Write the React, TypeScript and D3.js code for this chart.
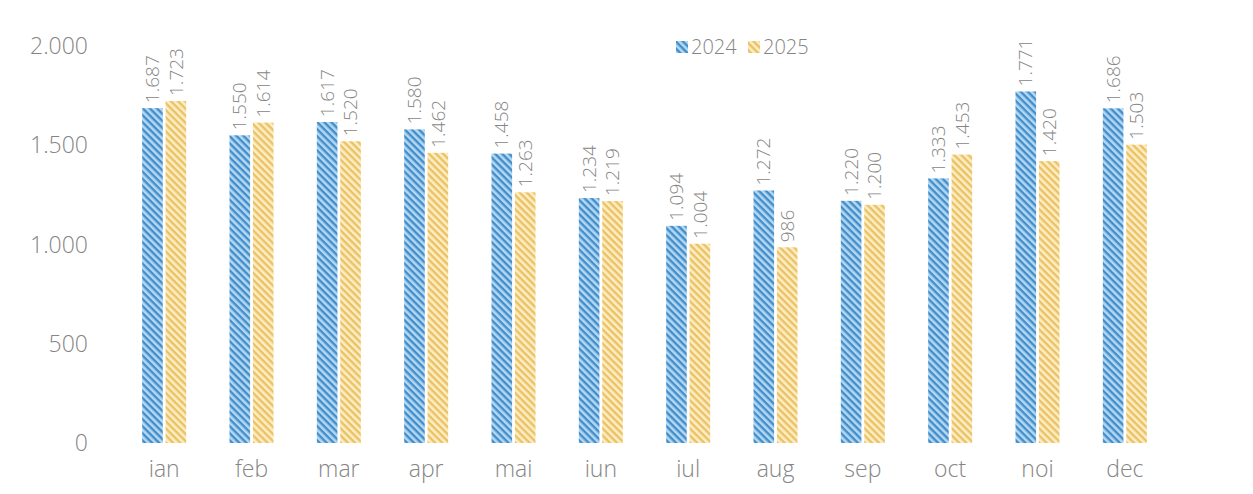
import React from "react";
import * as d3 from "d3";

const months = ["ian", "feb", "mar", "apr", "mai", "iun", "iul", "aug", "sep", "oct", "noi", "dec"];
const series2024 = [1687, 1550, 1617, 1580, 1458, 1234, 1094, 1272, 1220, 1333, 1771, 1686];
const series2025 = [1723, 1614, 1520, 1462, 1263, 1219, 1004, 986, 1200, 1453, 1420, 1503];
const yTicks = [0, 500, 1000, 1500, 2000];
const seriesNames = ["2024", "2025"];

const W = 1253;
const H = 494;
const locale = d3.formatLocale({ decimal: ",", thousands: ".", grouping: [3], currency: ["", " lei"] });
const fmt = locale.format(",d");
const FONT = "'Open Sans', 'Noto Sans', sans-serif";
const TEXT = "#858585";

export default function App() {
  const x = d3.scaleBand<string>().domain(months).range([120.5, 1168.5]).paddingInner(0).paddingOuter(0);
  const y = d3.scaleLinear().domain([0, 2000]).range([443, 46]);
  const sub = d3.scaleBand<string>().domain(seriesNames).range([0, 44]).paddingInner(0.12);
  const barW = sub.bandwidth();
  const off = (x.bandwidth() - 44) / 2;
  const data = [series2024, series2025];
  const pats = ["p2024", "p2025"];

  return (
    <svg width={W} height={H} style={{ position: "absolute", left: 0, top: 0, background: "#fff" }}>
      <defs>
        <pattern id="p2024" patternUnits="userSpaceOnUse" width={5} height={5} patternTransform="rotate(45)">
          <rect width={5} height={5} fill="#b5d8f2" />
          <rect width={5} height={2.4} fill="#428ecb" />
        </pattern>
        <pattern id="p2025" patternUnits="userSpaceOnUse" width={5} height={5} patternTransform="rotate(45)">
          <rect width={5} height={5} fill="#fcedc6" />
          <rect width={5} height={2.4} fill="#ebc262" />
        </pattern>
      </defs>
      {yTicks.map((t) => (
        <text key={t} x={88} y={y(t)} dy="0.35em" textAnchor="end" fontFamily={FONT} fontSize={23} fontWeight={300} fill={TEXT}>
          {fmt(t)}
        </text>
      ))}
      {months.map((m, i) => (
        <g key={m} transform={`translate(${(x(m) as number) + off},0)`}>
          {data.map((s, j) => {
            const bx = sub(seriesNames[j]) as number;
            const by = y(s[i]);
            return (
              <g key={j}>
                <rect x={bx} y={by} width={barW} height={y(0) - by} fill={`url(#${pats[j]})`} />
                <text
                  transform={`translate(${bx + barW / 2},${by - 5}) rotate(-90)`}
                  dy="0.35em"
                  textAnchor="start"
                  fontFamily={FONT}
                  fontSize={19}
                  fontWeight={300}
                  fill={TEXT}
                >
                  {fmt(s[i])}
                </text>
              </g>
            );
          })}
          <text x={22} y={469} dy="0.35em" textAnchor="middle" fontFamily={FONT} fontSize={23} fontWeight={300} fill={TEXT}>
            {m}
          </text>
        </g>
      ))}
      <g transform="translate(676,47)">
        <rect x={0} y={-6} width={12} height={12} fill="url(#p2024)" />
        <text x={15} y={0} dy="0.35em" fontFamily={FONT} fontSize={20} fontWeight={300} fill={TEXT}>{seriesNames[0]}</text>
        <rect x={72} y={-6} width={12} height={12} fill="url(#p2025)" />
        <text x={87} y={0} dy="0.35em" fontFamily={FONT} fontSize={20} fontWeight={300} fill={TEXT}>{seriesNames[1]}</text>
      </g>
    </svg>
  );
}
